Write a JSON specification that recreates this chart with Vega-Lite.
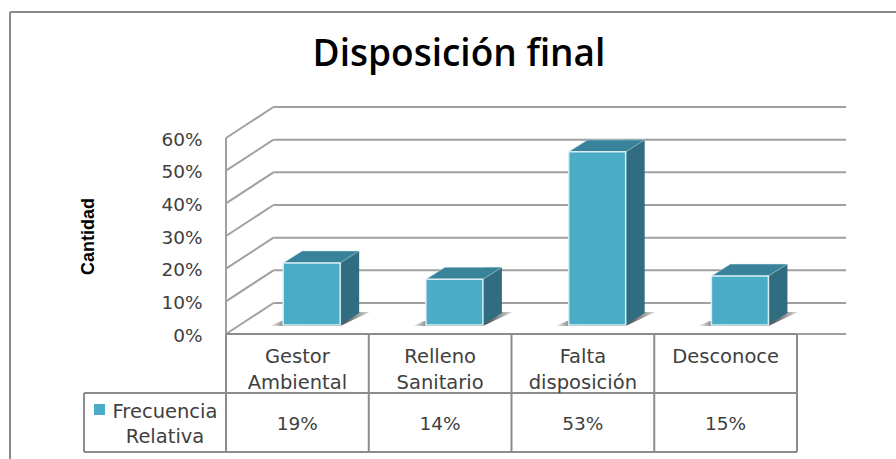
{
"$schema":"https://vega.github.io/schema/vega-lite/v6.json",
"width":896,"height":459,"padding":0,"autosize":{"type":"none"},"background":"white",
"view":{"stroke":null},
"title":{"text":"Disposición final","font":"Open Sans","fontSize":37,"fontWeight":600,"color":"#000000","offset":-74,"dx":11},
"config":{"axis":{"labelFont":"DejaVu Sans"}},
"datasets":{
"rows":[{"cat":"Gestor Ambiental","value":0.19},{"cat":"Relleno Sanitario","value":0.14},{"cat":"Falta disposición","value":0.53},{"cat":"Desconoce","value":0.15}],
"ticks":[{"tick":0},{"tick":0.1},{"tick":0.2},{"tick":0.3},{"tick":0.4},{"tick":0.5},{"tick":0.6}],
"one":[{"series":"Frecuencia Relativa"}]},
"layer":[
{"data":{"name":"one"},"mark":{"type":"rule","color":"#8a8a8a","strokeWidth":2},"encoding":{"x":{"value":10},"y":{"value":12},"y2":{"value":459}}},
{"data":{"name":"one"},"mark":{"type":"rule","color":"#8a8a8a","strokeWidth":2},"encoding":{"x":{"value":10},"x2":{"value":896},"y":{"value":12}}},
{"data":{"name":"ticks"},"mark":{"type":"rule","color":"#a0a0a0","strokeWidth":2,"xOffset":47.5,"x2Offset":120.4,"yOffset":-31,"y2Offset":-31},
"encoding":{
"x":{"datum":"Gestor Ambiental","type":"nominal","bandPosition":0,"scale":{"domain":["Gestor Ambiental","Relleno Sanitario","Falta disposición","Desconoce"],"range":[226,797],"padding":0},"axis":null},
"x2":{"datum":"Desconoce"},
"y":{"field":"tick","type":"quantitative","scale":{"domain":[0,0.6],"range":[334,138]},"axis":{"orient":"left","offset":-205,"format":".0%","values":[0,0.1,0.2,0.3,0.4,0.5,0.6],"domain":false,"ticks":false,"grid":false,"labelPadding":3,"labelFontSize":18.5,"labelOffset":1,"labelColor":"#404040","title":"Cantidad","titleFont":"Liberation Sans","titleFontSize":18,"titleFontWeight":"bold","titleColor":"#000000","titleAngle":270,"titleX":-108,"titleY":236,"titleAnchor":"middle"}}}},
{"data":{"name":"ticks"},"mark":{"type":"rule","color":"#a0a0a0","strokeWidth":2,"x2Offset":-23.875,"y2Offset":-31},
"encoding":{
"x":{"datum":"Gestor Ambiental","type":"nominal","bandPosition":0},
"x2":{"datum":"Gestor Ambiental"},
"y":{"field":"tick","type":"quantitative"},"y2":{"field":"tick"}}},
{"data":{"name":"one"},"mark":{"type":"rule","color":"#a0a0a0","strokeWidth":2},
"encoding":{"x":{"datum":"Gestor Ambiental","type":"nominal","bandPosition":0},"y":{"datum":0,"type":"quantitative"},"y2":{"datum":0.6}}},
{"data":{"name":"one"},"mark":{"type":"rule","color":"#a0a0a0","strokeWidth":2,"x2Offset":120.4,"y2Offset":-31},
"encoding":{"x":{"datum":"Desconoce","type":"nominal","bandPosition":1},"x2":{"datum":"Desconoce"},"y":{"datum":0,"type":"quantitative"}}},
{"data":{"name":"rows"},"mark":{"type":"point","filled":true,"opacity":1,"shape":"M-42,1L28.5,1L58,-13L40,-13L20,-4L-30,-4Z","size":4,"strokeWidth":0,"xOffset":14.3,"yOffset":-9,"fill":{"x1":0,"y1":0,"x2":1,"y2":0,"gradient":"linear","stops":[{"offset":0,"color":"#ffffff"},{"offset":0.16,"color":"#777777"},{"offset":0.75,"color":"#555555"},{"offset":1,"color":"#dddddd"}]}},
"encoding":{"x":{"field":"cat","type":"nominal"},"y":{"datum":0,"type":"quantitative"}}},
{"data":{"name":"rows"},"mark":{"type":"bar","width":19,"xOffset":52.3,"yOffset":-21,"y2Offset":-21,"fill":"#316d80"},
"encoding":{"x":{"field":"cat","type":"nominal"},"y":{"field":"value","type":"quantitative"},"y2":{"datum":0}}},
{"data":{"name":"rows"},"mark":{"type":"point","filled":true,"opacity":1,"shape":"M28.5,0L47.5,-12L28.5,-12Z","size":4,"strokeWidth":0,"xOffset":14.3,"yOffset":-9,"fill":"#316d80"},
"encoding":{"x":{"field":"cat","type":"nominal"},"y":{"datum":0,"type":"quantitative"}}},
{"data":{"name":"rows"},"mark":{"type":"point","filled":true,"opacity":1,"shape":"M-28.5,0L28.5,0L47.5,-12L-9.5,-12Z","size":4,"strokeWidth":0.5,"stroke":"#d8eef3","xOffset":14.3,"yOffset":-9,"fill":"#38829a"},
"encoding":{"x":{"field":"cat","type":"nominal"},"y":{"field":"value","type":"quantitative"}}},
{"data":{"name":"rows"},"mark":{"type":"bar","width":57,"xOffset":14.3,"yOffset":-9,"y2Offset":-9,"fill":"#4bacc8","stroke":"#d8eef3","strokeWidth":1.5},
"encoding":{"x":{"field":"cat","type":"nominal"},"y":{"field":"value","type":"quantitative"},"y2":{"datum":0}}},
{"data":{"name":"one"},"mark":{"type":"rule","color":"#8c8c8c","strokeWidth":2,"x2Offset":71.375},
"encoding":{"x":{"datum":"Gestor Ambiental","type":"nominal","bandPosition":0},"x2":{"datum":"Desconoce"},"y":{"datum":0,"type":"quantitative"}}},
{"data":{"name":"one"},"mark":{"type":"rule","color":"#8c8c8c","strokeWidth":2,"xOffset":-142,"x2Offset":71.375,"yOffset":59,"y2Offset":59},
"encoding":{"x":{"datum":"Gestor Ambiental","type":"nominal","bandPosition":0},"x2":{"datum":"Desconoce"},"y":{"datum":0,"type":"quantitative"}}},
{"data":{"name":"one"},"mark":{"type":"rule","color":"#8c8c8c","strokeWidth":2,"xOffset":-142,"x2Offset":71.375,"yOffset":118,"y2Offset":118},
"encoding":{"x":{"datum":"Gestor Ambiental","type":"nominal","bandPosition":0},"x2":{"datum":"Desconoce"},"y":{"datum":0,"type":"quantitative"}}},
{"data":{"name":"rows"},"mark":{"type":"rule","color":"#8c8c8c","strokeWidth":2,"y2Offset":118},
"encoding":{"x":{"field":"cat","type":"nominal","bandPosition":0},"y":{"datum":0,"type":"quantitative"},"y2":{"datum":0}}},
{"data":{"name":"one"},"mark":{"type":"rule","color":"#8c8c8c","strokeWidth":2,"y2Offset":118},
"encoding":{"x":{"datum":"Desconoce","type":"nominal","bandPosition":1},"y":{"datum":0,"type":"quantitative"},"y2":{"datum":0}}},
{"data":{"name":"one"},"mark":{"type":"rule","color":"#8c8c8c","strokeWidth":2,"xOffset":-142,"yOffset":59,"y2Offset":118},
"encoding":{"x":{"datum":"Gestor Ambiental","type":"nominal","bandPosition":0},"y":{"datum":0,"type":"quantitative"},"y2":{"datum":0}}},
{"data":{"name":"rows"},"mark":{"type":"text","font":"DejaVu Sans","fontSize":19.5,"color":"#404040","lineBreak":" ","lineHeight":26,"baseline":"middle","yOffset":23},
"encoding":{"x":{"field":"cat","type":"nominal"},"y":{"datum":0,"type":"quantitative"},"text":{"field":"cat"}}},
{"data":{"name":"rows"},"mark":{"type":"text","font":"DejaVu Sans","fontSize":18.5,"color":"#404040","baseline":"middle","yOffset":90},
"encoding":{"x":{"field":"cat","type":"nominal"},"y":{"datum":0,"type":"quantitative"},"text":{"field":"value","format":".0%"}}},
{"data":{"name":"one"},"mark":{"type":"text","font":"DejaVu Sans","fontSize":19.5,"color":"#404040","lineBreak":" ","lineHeight":25,"baseline":"middle","xOffset":-61,"yOffset":78},
"encoding":{"x":{"datum":"Gestor Ambiental","type":"nominal","bandPosition":0},"y":{"datum":0,"type":"quantitative"},"text":{"field":"series"}}},
{"data":{"name":"one"},"mark":{"type":"point","shape":"square","filled":true,"opacity":1,"size":121,"fill":"#4bacc8","xOffset":-126.5,"yOffset":75.5},
"encoding":{"x":{"datum":"Gestor Ambiental","type":"nominal","bandPosition":0},"y":{"datum":0,"type":"quantitative"}}}
]}
